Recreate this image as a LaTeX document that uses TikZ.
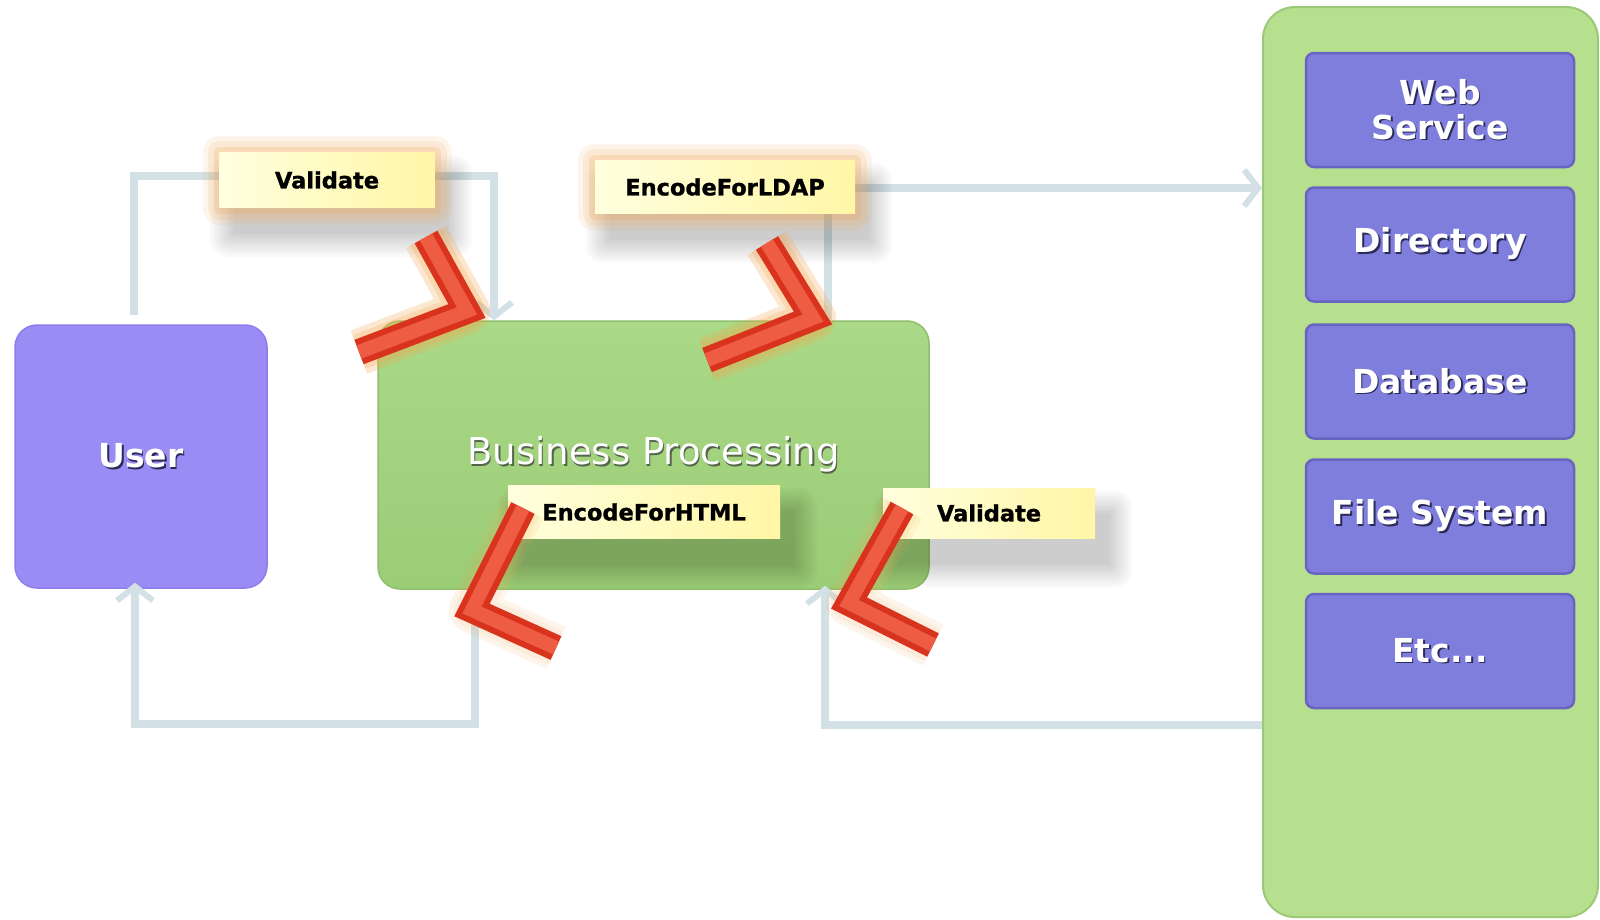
\documentclass[tikz,border=0pt]{standalone}
\usepackage{fontspec}
\setmainfont{DejaVu Sans}
\newfontfamily\tagfont[FakeBold=1.2]{DejaVu Sans Bold}
\usetikzlibrary{arrows.meta}

\definecolor{userc}{HTML}{9B8CF5}
\definecolor{userb}{HTML}{8C7EEA}
\definecolor{bptop}{HTML}{AAD987}
\definecolor{bpbot}{HTML}{9BCC76}
\definecolor{bpb}{HTML}{8EBF6C}
\definecolor{storec}{HTML}{B6E08E}
\definecolor{storeb}{HTML}{9CC977}
\definecolor{resc}{HTML}{7F7EDD}
\definecolor{resb}{HTML}{6764C2}
\definecolor{connc}{HTML}{D3E1E7}
\definecolor{tagl}{HTML}{FFFFDE}
\definecolor{tagr}{HTML}{FFF6A6}
\definecolor{glowc}{HTML}{F5A54A}
\definecolor{chevc}{HTML}{D9331E}
\definecolor{chevface}{HTML}{EF5C44}
\definecolor{txtsh}{HTML}{2B2B5A}
\definecolor{bpsh}{HTML}{55654C}

\pgfdeclarelayer{boxes}
\pgfdeclarelayer{shadows}
\pgfsetlayers{boxes,shadows,main}

% white text with a dark offset copy underneath
\newcommand{\shtxt}[2]{\rlap{\kern1.6pt\raisebox{-1.6pt}{\color{#1}#2}}#2}

% red chevron marker with soft glow and lighter face
\newcommand{\chevron}[4]{%
  \draw[glowc, line width=46pt, opacity=#4, line join=round] #1 -- #2 -- #3;
  \draw[glowc, line width=36pt, opacity=#4, line join=round] #1 -- #2 -- #3;
  \draw[chevc, line width=26pt, line join=miter] #1 -- #2 -- #3;
  \draw[chevface, line width=14pt, line join=miter] #1 -- #2 -- #3;
}

% soft drop shadow under a named label, built from nested translucent fills
\newcommand{\tagshadow}[1]{%
  \foreach \k in {0,...,9}{
    \fill[black, opacity=0.018, rounded corners=2*\k pt]
      ([shift={(14pt-2.6*\k pt,-26pt-2.6*\k pt)}]#1.south west)
      rectangle ([shift={(14pt+2.6*\k pt,-26pt+2.6*\k pt)}]#1.north east);
  }
}

\begin{document}
\begin{tikzpicture}[x=1pt,y=-1pt,
  bigtxt/.style={text=white, font=\fontsize{33}{39}\selectfont\bfseries},
  userbox/.style={draw=userb, line width=1.5pt, fill=userc, rounded corners=22pt,
    minimum width=252pt, minimum height=263pt, inner sep=0pt, bigtxt},
  bpbox/.style={draw=bpb, line width=1.5pt, top color=bptop, bottom color=bpbot,
    rounded corners=22pt, minimum width=551pt, minimum height=268pt, inner sep=0pt,
    text=white, font=\fontsize{37}{42}\selectfont},
  storebox/.style={draw=storeb, line width=2pt, fill=storec, rounded corners=32pt,
    minimum width=335pt, minimum height=910pt, inner sep=0pt},
  resbox/.style={draw=resb, line width=2.5pt, fill=resc, rounded corners=8pt,
    minimum width=268pt, minimum height=114pt, inner sep=0pt, align=center, bigtxt},
  tagbox/.style={left color=tagl, right color=tagr, inner sep=0pt,
    font=\fontsize{22.5}{26}\tagfont, text=black},
  glowtag/.style={tagbox,
    preaction={draw=glowc, line width=34pt, opacity=.10, line join=round},
    preaction={draw=glowc, line width=24pt, opacity=.14, line join=round},
    preaction={draw=glowc, line width=12pt, opacity=.22, line join=round}},
  conn/.style={draw=connc, line width=8pt, line join=miter,
    -{Straight Barb[length=14pt, width=36pt, line width=6pt]}}
]
\useasboundingbox (0,0) rectangle (1600,919);

\begin{pgfonlayer}{boxes}
\fill[white] (0,0) rectangle (1600,919);

% main blocks
\node[userbox] (user) at (141,456.5) {\shtxt{txtsh}{User}};
\node[bpbox] (bp) at (653.5,455) {\raisebox{4pt}{\shtxt{bpsh}{Business Processing}}};
\node[storebox] (store) at (1430.5,462) {};

% resources in the store column
\node[resbox] (ws)  at (1440,110)   {\shtxt{txtsh}{Web}\\[-4pt]\shtxt{txtsh}{Service}};
\node[resbox] (dir) at (1440,244.5) {\shtxt{txtsh}{Directory}};
\node[resbox] (db)  at (1440,381.5) {\shtxt{txtsh}{Database}};
\node[resbox] (fs)  at (1440,516.5) {\shtxt{txtsh}{File System}};
\node[resbox] (etc) at (1440,651)   {\shtxt{txtsh}{Etc...}};

% corner points of the connectors
\coordinate (a1) at (134,176);
\coordinate (a2) at (494,176);
\coordinate (b1) at (828,188);
\coordinate (c1) at (475,724);
\coordinate (c2) at (135,724);
\coordinate (d1) at (825,725);

% connectors
\draw[conn, shorten <=9pt] (user.north -| a1) -- (a1) -- (a2) -- (bp.north -| a2);
\draw[conn] (bp.north -| b1) -- (b1) -- (store.west |- b1);
\draw[conn, shorten >=-6pt] (bp.south -| c1) -- (c1) -- (c2) -- (user.south -| c2);
\draw[conn, shorten >=-4pt] (store.west |- d1) -- (d1) -- (bp.south -| d1);
\end{pgfonlayer}

% control labels
\node[glowtag, minimum width=215pt, minimum height=55pt] (val1) at (327,180) {Validate};
\node[glowtag, minimum width=260pt, minimum height=53pt] (ldap) at (725,187) {EncodeForLDAP};
\node[tagbox, minimum width=272pt, minimum height=53pt] (html) at (644,512) {EncodeForHTML};
\node[tagbox, minimum width=212pt, minimum height=50pt] (val2) at (989,513) {Validate};

\begin{pgfonlayer}{shadows}
\tagshadow{val1}
\tagshadow{ldap}
\tagshadow{html}
\tagshadow{val2}
\end{pgfonlayer}

% chevron markers
\chevron{(426,237)}{(467,311)}{(359,352)}{0.25}
\chevron{(767,243)}{(813,318)}{(707,360)}{0.25}
\chevron{(523,508)}{(472,610)}{(556,648)}{0.10}
\chevron{(902,508)}{(849,603)}{(933,645)}{0.10}
\end{tikzpicture}
\end{document}
